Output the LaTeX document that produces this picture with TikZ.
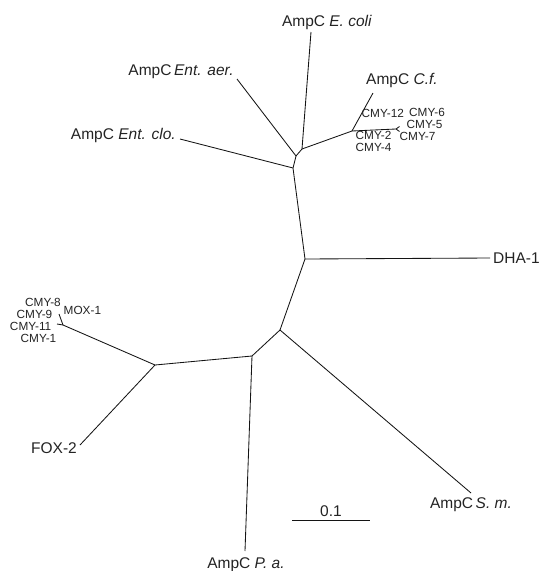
\documentclass[tikz,border=0pt]{standalone}
\usepackage{fontspec}
\setmainfont{Liberation Sans}
\begin{document}
\begin{tikzpicture}[x=1pt,y=-1pt,
  branch/.style={line width=0.85pt, draw={rgb,255:red,20;green,20;blue,20}},
  big/.style={inner sep=0pt, text={rgb,255:red,35;green,35;blue,35}, font=\fontsize{15.5}{16}\selectfont},
  small/.style={inner sep=0pt, text height=8.2pt, text depth=0pt, text={rgb,255:red,35;green,35;blue,35}, font=\fontsize{11.8}{12.5}\selectfont}]
\useasboundingbox (0,0) rectangle (543,571);
% internal nodes
\coordinate (c)  at (305,259);
\coordinate (u1) at (293,168);
\coordinate (u2) at (296,156);
\coordinate (u3) at (302,149);
\coordinate (u4) at (352,131);
\coordinate (u5) at (396,129);
\coordinate (l1) at (280,330);
\coordinate (l2) at (252,356);
\coordinate (l3) at (155,365);
\coordinate (l4) at (63,325);
% leaves
\coordinate (dha) at (490,258);
\coordinate (eco) at (311,32);
\coordinate (eae) at (237,79);
\coordinate (ecl) at (180,139);
\coordinate (cf)  at (373,93);
\coordinate (cya) at (399.5,126.5);
\coordinate (cyb) at (399.5,131.5);
\coordinate (sm)  at (471,493);
\coordinate (pa)  at (245,551);
\coordinate (fox) at (80,445);
\coordinate (mxa) at (59,314);
\coordinate (mxb) at (57,324);
\coordinate (sb1) at (292,520);
\coordinate (sb2) at (370,520);
% branches
\draw[branch] (c) -- (dha);
\draw[branch] (c) -- (u1);
\draw[branch] (u1) -- (ecl);
\draw[branch] (u1) -- (u2);
\draw[branch] (u2) -- (eae);
\draw[branch] (u2) -- (u3);
\draw[branch] (u3) -- (eco);
\draw[branch] (u3) -- (u4);
\draw[branch] (u4) -- (cf);
\draw[branch] (u4) -- (u5);
\draw[branch] (u5) -- (cya);
\draw[branch] (u5) -- (cyb);
\draw[branch] (c) -- (l1);
\draw[branch] (l1) -- (sm);
\draw[branch] (l1) -- (l2);
\draw[branch] (l2) -- (pa);
\draw[branch] (l2) -- (l3);
\draw[branch] (l3) -- (fox);
\draw[branch] (l3) -- (l4);
\draw[branch] (l4) -- (mxa);
\draw[branch] (l4) -- (mxb);
\draw[branch] (sb1) -- (sb2);
% big labels
\node[big, anchor=west] (tdha) at (493,258) {DHA-1};
\node[big] (teco) at (327,22) {AmpC \textit{E. coli}};
\node[big] (teae) at (181,72) {AmpC\,\textit{Ent. aer.}};
\node[big, anchor=west] (tcf) at (366,80) {AmpC \textit{C.f.}};
\node[big, anchor=east] (tecl) at (176,135) {AmpC \textit{Ent. clo.}};
\node[big] (tsm) at (471,505) {AmpC\,\textit{S. m.}};
\node[big] (tpa) at (246,565) {AmpC \textit{P. a.}};
\node[big] (tfox) at (54,448) {FOX-2};
\node[big] (tsb) at (331,511) {0.1};
% small labels right cluster
\node[small, anchor=west] (t12) at (361.5,113.5) {CMY-12};
\node[small, anchor=west] (t6)  at (409,112) {CMY-6};
\node[small, anchor=west] (t5)  at (406.5,124) {CMY-5};
\node[small, anchor=west] (t2)  at (355.5,135.5) {CMY-2};
\node[small, anchor=west] (t7)  at (399.5,136) {CMY-7};
\node[small, anchor=west] (t4)  at (355.5,147) {CMY-4};
% small labels left cluster
\node[small, anchor=east] (t8)  at (61,302) {CMY-8};
\node[small, anchor=east] (t9)  at (52.5,314) {CMY-9};
\node[small, anchor=east] (t11) at (51.5,326.5) {CMY-11};
\node[small, anchor=east] (t1)  at (56.5,338) {CMY-1};
\node[small, anchor=west] (tmox) at (63.5,310) {MOX-1};
\end{tikzpicture}
\end{document}
